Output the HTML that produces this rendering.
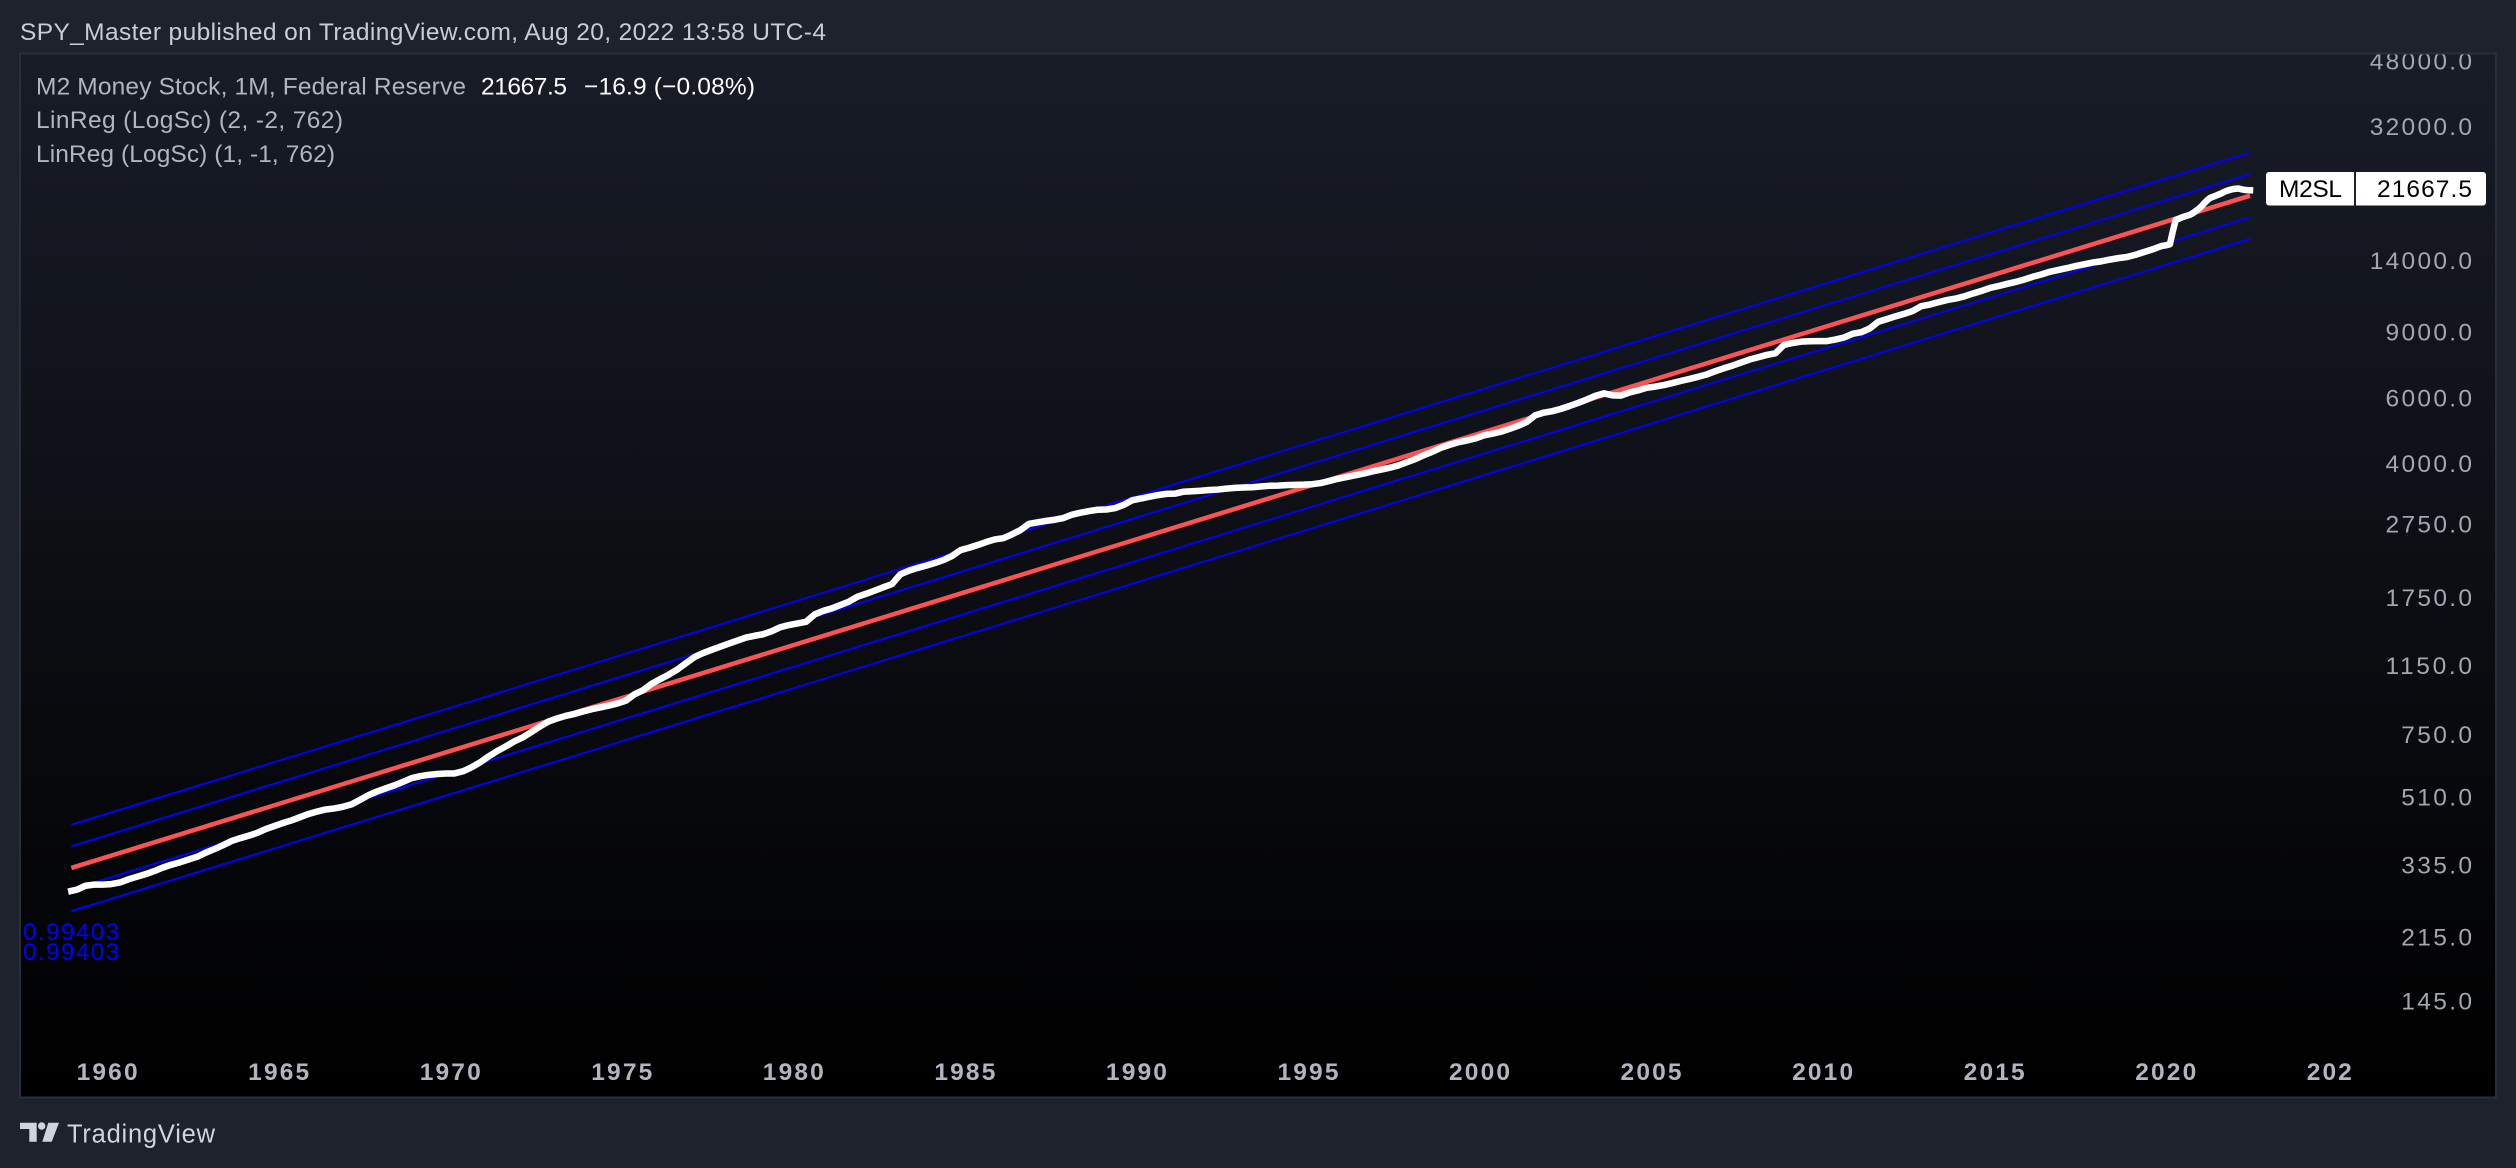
<!DOCTYPE html>
<html lang="en">
<head>
<meta charset="utf-8">
<title>M2 Money Stock chart</title>
<style>
  html, body { margin: 0; padding: 0; background: #1e222d; width: 2516px; height: 1168px; overflow: hidden; }
  svg { display: block; }
  text { font-family: "Liberation Sans", sans-serif; }
</style>
</head>
<body>
<svg id="chart" xmlns="http://www.w3.org/2000/svg" width="2516" height="1168" viewBox="0 0 2516 1168">
  <defs>
    <linearGradient id="panelFill" x1="0" y1="0" x2="0" y2="1">
      <stop offset="0" stop-color="#181c27"/>
      <stop offset="1" stop-color="#000000"/>
    </linearGradient>
    <clipPath id="panelClip"><rect x="21" y="54.5" width="2474" height="1042.5"/></clipPath>
  </defs>
  <rect x="0" y="0" width="2516" height="1168" fill="#1e222d"/>
  <text x="20" y="40" font-size="24.5" fill="#c9ccd6" textLength="806">SPY_Master published on TradingView.com, Aug 20, 2022 13:58 UTC-4</text>
  <rect x="20" y="53.5" width="2476" height="1044" fill="url(#panelFill)" stroke="#2a2e39" stroke-width="2"/>
  <g id="panel" clip-path="url(#panelClip)">
    <g id="yAxis"></g>
    <g id="xAxis"></g>
    <g id="bands"></g>
    <g id="series"></g>
  </g>

  <text x="36" y="94.5" font-size="24.5" fill="#b2b5be" textLength="430">M2 Money Stock, 1M, Federal Reserve</text>
  <text x="481" y="94.5" font-size="24.5" fill="#ffffff" textLength="86">21667.5</text>
  <text x="584" y="94.5" font-size="24.5" fill="#ffffff" textLength="171">−16.9 (−0.08%)</text>
  <text x="36" y="128" font-size="24.5" fill="#b2b5be" textLength="307">LinReg (LogSc) (2, -2, 762)</text>
  <text x="36" y="162" font-size="24.5" fill="#b2b5be" textLength="299">LinReg (LogSc) (1, -1, 762)</text>

  <text x="23" y="940" font-size="24" fill="#0000ff" textLength="96">0.99403</text>
  <text x="23" y="960" font-size="24" fill="#0000ff" textLength="96">0.99403</text>

  <g>
    <rect x="2266" y="172" width="220" height="33.5" rx="3" fill="#ffffff"/>
    <rect x="2354" y="172" width="2" height="33.5" fill="#1e222d"/>
    <text x="2279" y="197" font-size="24.5" fill="#000000" textLength="63">M2SL</text>
    <text x="2377" y="197" font-size="24.5" fill="#000000" textLength="95">21667.5</text>
  </g>

  <g>
    <g fill="#d1d4dc">
      <polygon points="20,1122.7 36.7,1122.7 36.7,1141.7 29.3,1141.7 29.3,1129 20,1129"/>
      <circle cx="41.7" cy="1126" r="3.7"/>
      <polygon points="48.3,1122.7 59,1122.7 51.7,1141.7 42.3,1141.7"/>
    </g>
    <text x="67" y="1142.5" font-size="25.5" fill="#d1d4dc" textLength="148">TradingView</text>
  </g>
</svg>
<script>
// --- chart data ---
const firstValue = 286.6;
const firstYear = 1959;
// values at Mar / Jun / Sep / Dec of each year, 1959 to 2019
const quarterlyValues = [
  289,296,298,298,  299,302,308,313,  318,324,331,337,  342,348,354,363,
  371,380,390,397,  403,410,420,428,  436,443,452,461,  468,474,477,482,
  489,503,518,530,  540,550,562,575,  582,587,590,592,  592,600,615,634,
  658,680,700,722,  740,765,792,816,  832,845,855,868,  880,890,900,912,
  928,965,990,1030,  1060,1090,1125,1170,  1215,1245,1270,1295,  1320,1345,1370,1385,
  1398,1425,1460,1480,  1495,1510,1580,1615,  1640,1675,1710,1763,  1795,1830,1868,1905,
  2025,2070,2105,2135,  2170,2210,2265,2350,  2385,2425,2470,2510,  2530,2590,2660,2765,
  2790,2815,2835,2865,  2925,2960,2990,3015,  3020,3045,3105,3195,  3230,3265,3300,3325,
  3330,3370,3380,3390,  3405,3415,3435,3450,  3458,3465,3480,3495,  3500,3510,3515,3520,
  3530,3555,3600,3650,  3690,3730,3770,3820,  3860,3905,3960,4040,  4120,4220,4310,4420,
  4500,4570,4620,4680,  4770,4820,4880,4965,  5060,5180,5400,5490,  5540,5620,5720,5830,
  5950,6090,6185,6110,  6100,6220,6300,6400,  6450,6510,6590,6680,  6760,6850,6950,7090,
  7220,7340,7480,7620,  7730,7840,7920,8340,  8440,8510,8530,8540,  8540,8620,8730,8930,
  9020,9230,9620,9780,  9950,10100,10280,10590,  10700,10850,11000,11100,  11250,11450,11630,11850,
  11990,12150,12300,12480,  12700,12880,13100,13250,  13400,13570,13720,13870,  13970,14120,14250,14350,
  14550,14800,15050,15350
];
// monthly values, Jan 2020 to Jul 2022
const monthlyValues = [
  15400,15450,15530,16800,18030,18150,18300,18420,18520,18620,18800,19050,
  19300,19600,20000,20350,20650,20800,20950,21100,21250,21450,21600,21720,
  21820,21870,21900,21800,21720,21684.4,21667.5
];
const regressionStartValue = 330.4;
const regressionEndValue = 20950;
const regressionEndYear = 2022.5;
const channelSigma = 0.1333;
const channelMultipliers = [2, 1, -1, -2];
const priceTicks = [48000, 32000, 14000, 9000, 6000, 4000, 2750, 1750, 1150, 750, 510, 335, 215, 145];
const yearTicks = [1960, 1965, 1970, 1975, 1980, 1985, 1990, 1995, 2000, 2005, 2010, 2015, 2020];
const clippedYearLabel = "202";
const clippedYearTick = 2025;

// --- axis functions ---
function xScale(t) { return 71.3 + (t - 1959) * 34.31; }
function yScale(v) { return 261 - 162 * Math.log(v / 14000); }

const NS = "http://www.w3.org/2000/svg";
function make(tag, parent) {
  const el = document.createElementNS(NS, tag);
  parent.appendChild(el);
  return el;
}

// price axis labels
const yAxis = document.getElementById("yAxis");
priceTicks.forEach(function (v) {
  const el = make("text", yAxis);
  
  
  const label = v.toFixed(1);
  const w = (label.length - 2) * 15.8 + 7.5 + 15.8;
  el.setAttribute("x", 2472 - w);
  el.setAttribute("y", yScale(v) + 8);
  el.setAttribute("font-size", "24.5");
  el.setAttribute("fill", "#a3a6af");
  el.setAttribute("textLength", w);
  el.textContent = label;
});

// time axis labels
const xAxis = document.getElementById("xAxis");
yearTicks.forEach(function (yr) {
  const el = make("text", xAxis);
  
  
  el.setAttribute("x", xScale(yr) + 1.5 - 30.5);
  el.setAttribute("y", 1080);
  el.setAttribute("font-size", "24.5");
  el.setAttribute("font-weight", "bold");
  el.setAttribute("fill", "#b2b5be");
  el.setAttribute("textLength", "61");
  el.textContent = String(yr);
});
const clippedTick = make("text", xAxis);


clippedTick.setAttribute("x", xScale(clippedYearTick) + 1.5 - 30.5);
clippedTick.setAttribute("y", 1080);
clippedTick.setAttribute("font-size", "24.5");
clippedTick.setAttribute("font-weight", "bold");
clippedTick.setAttribute("fill", "#b2b5be");
clippedTick.setAttribute("textLength", "45");
clippedTick.textContent = clippedYearLabel;

// regression channel
const bands = document.getElementById("bands");
channelMultipliers.forEach(function (m) {
  const f = Math.exp(m * channelSigma);
  const el = make("line", bands);
  
  
  el.setAttribute("x1", xScale(firstYear));
  el.setAttribute("y1", yScale(regressionStartValue * f));
  el.setAttribute("x2", xScale(regressionEndYear));
  el.setAttribute("y2", yScale(regressionEndValue * f));
  el.setAttribute("stroke", "#0000ff");
  el.setAttribute("stroke-width", "2");
});
const midLine = make("line", bands);


midLine.setAttribute("x1", xScale(firstYear));
midLine.setAttribute("y1", yScale(regressionStartValue));
midLine.setAttribute("x2", xScale(regressionEndYear));
midLine.setAttribute("y2", yScale(regressionEndValue));
midLine.setAttribute("stroke", "#ff5252");
midLine.setAttribute("stroke-width", "4.5");

// main series
const pts = [[xScale(firstYear), yScale(firstValue)]];
quarterlyValues.forEach(function (v, i) {
  const t = firstYear + i * 0.25 + 2 / 12;
  pts.push([xScale(t), yScale(v)]);
});
monthlyValues.forEach(function (v, i) {
  const t = 2020 + i / 12;
  pts.push([xScale(t), yScale(v)]);
});
const seriesLine = make("polyline", document.getElementById("series"));


seriesLine.setAttribute("points", pts.map(function (p) { return p[0].toFixed(2) + "," + p[1].toFixed(2); }).join(" "));
seriesLine.setAttribute("fill", "none");
seriesLine.setAttribute("stroke", "#ffffff");
seriesLine.setAttribute("stroke-width", "6.5");
seriesLine.setAttribute("stroke-linejoin", "round");
seriesLine.setAttribute("stroke-linecap", "square");
</script>
</body>
</html>
